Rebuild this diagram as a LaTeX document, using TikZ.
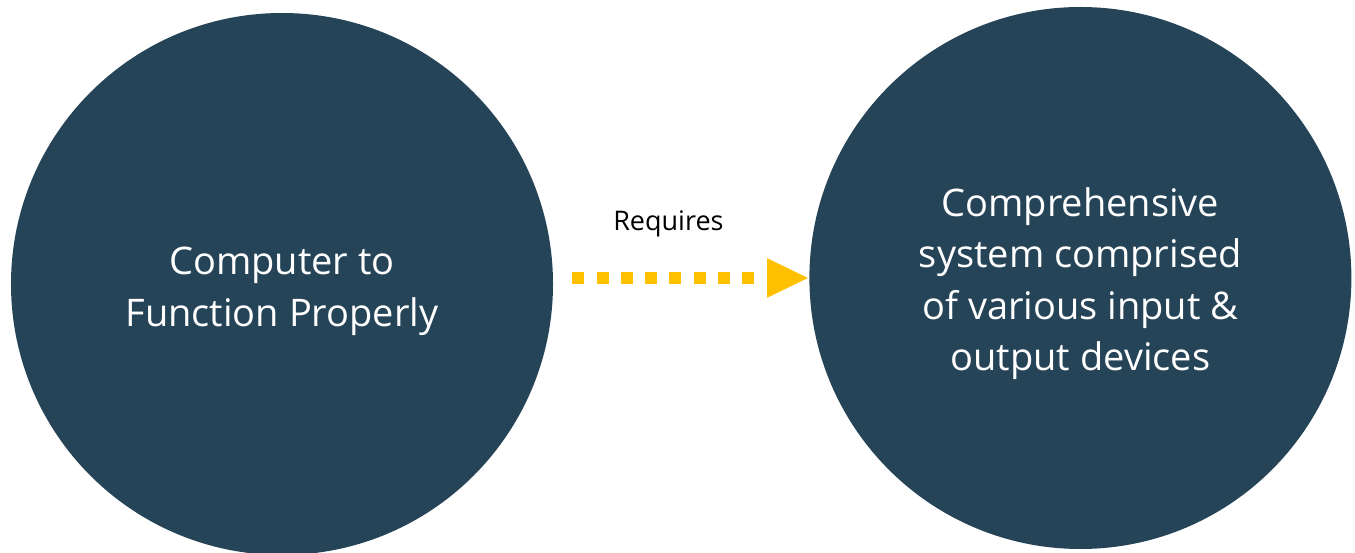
\documentclass[tikz,border=0pt]{standalone}
\usepackage{fontspec}
\setmainfont{Open Sans}
\usepackage{xcolor}
\usetikzlibrary{positioning,arrows.meta}
\definecolor{slate}{HTML}{264457}
\definecolor{gold}{HTML}{FFC000}

\begin{document}
\begin{tikzpicture}[x=1pt,y=1pt,node distance=256pt,
		bubble/.style={circle,fill=slate,text=white,minimum size=542pt,inner sep=0pt,align=center,font=\fontsize{38}{51.5}\selectfont}]
			\useasboundingbox (0,0) rectangle (1355,552);
			\node[bubble] (need) at (282,268) {\rule{0pt}{42pt}Computer to\\Function Properly};
			\node[bubble] (sys) [right=of need,yshift=6pt] {\rule{0pt}{40pt}Comprehensive\\system comprised\\of various input \&\\output devices};

			\draw[gold,line width=12pt,dash pattern=on 12pt off 12.3pt,-{Triangle[length=42pt,width=36pt]},shorten <=19pt]
					(need.east |- sys.west) -- (sys.west)
					node[pos=0.45,above=35pt,inner sep=0pt,text=black,font=\fontsize{27}{30}\selectfont] {Requires};
			\end{tikzpicture}
\end{document}
